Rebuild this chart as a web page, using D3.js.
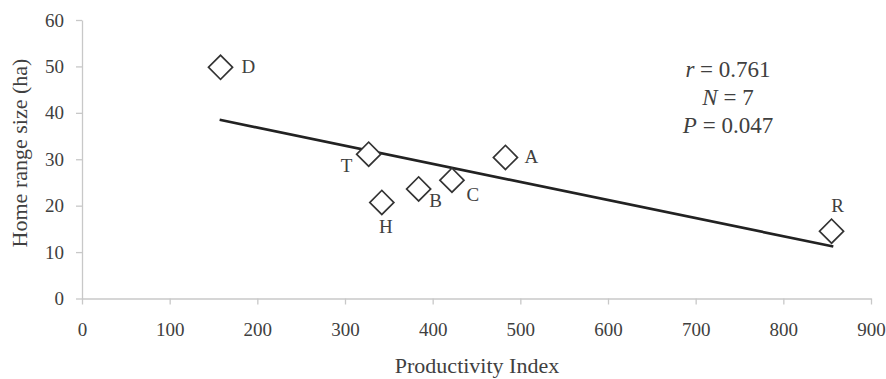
<!DOCTYPE html>
<html><head><meta charset="utf-8">
<script src="https://cdn.jsdelivr.net/npm/d3@7"></script>
<style>body{margin:0;background:#fff}svg{display:block}</style>
</head><body>
<svg id="c" width="886" height="379"></svg>
<script>
const labels = ["D","T","H","B","C","A","R"];
const productivity = [158, 327, 342, 384, 422, 483, 855];
const homeRange = [49.8, 31.1, 20.7, 23.6, 25.5, 30.4, 14.5];
const fitX = [157, 857];
const fitY = [38.5, 11.2];
const xTicks = [0,100,200,300,400,500,600,700,800,900];
const yTicks = [0,10,20,30,40,50,60];
const stats = [["r"," = 0.761"],["N"," = 7"],["P"," = 0.047"]];
// label offsets (dx, dy) relative to point, anchor
const labelPos = {D:[21,6,"start"],T:[-22,18,"middle"],H:[4,31,"middle"],B:[17,18,"middle"],C:[21,21,"middle"],A:[26,6,"middle"],R:[6,-19,"middle"]};

const svg = d3.select("#c");
const font = "'Liberation Serif','Times New Roman',serif";
const x = d3.scaleLinear().domain([0,900]).range([82,871]);
const y = d3.scaleLinear().domain([0,60]).range([298.5,20]);

const axisCol = "#c8c8c8", textCol = "#404040";
const gx = svg.append("g").attr("transform","translate(0,298.5)")
  .call(d3.axisBottom(x).tickValues(xTicks).tickSize(6).tickSizeOuter(0).tickPadding(18));
const gy = svg.append("g").attr("transform","translate(82,0)")
  .call(d3.axisLeft(y).tickValues(yTicks).tickSize(6).tickSizeOuter(0).tickPadding(12));
[gx,gy].forEach(g=>{
  g.selectAll("path,line").attr("stroke",axisCol).attr("stroke-width",1.3);
  g.selectAll("text").attr("fill",textCol).style("font-family",font).style("font-size","19px");
});

svg.append("text").attr("x",477).attr("y",373).attr("text-anchor","middle")
  .attr("fill",textCol).style("font-family",font).style("font-size","22px").text("Productivity Index");
svg.append("text").attr("transform","translate(27,153) rotate(-90)").attr("text-anchor","middle")
  .attr("fill",textCol).style("font-family",font).style("font-size","22px").text("Home range size (ha)");

// regression line
svg.append("line").attr("x1",x(fitX[0])).attr("y1",y(fitY[0])).attr("x2",x(fitX[1])).attr("y2",y(fitY[1]))
  .attr("stroke","#222").attr("stroke-width",2.7);

// diamonds
const sym = d3.symbol().type(d3.symbolSquare).size(290);
const pts = svg.append("g").selectAll("g").data(labels.map((l,i)=>({l,x:productivity[i],y:homeRange[i]}))).join("g")
  .attr("transform",d=>`translate(${x(d.x)},${y(d.y)})`);
pts.append("path").attr("d",sym).attr("transform","rotate(45)")
  .attr("fill","#fff").attr("stroke","#333").attr("stroke-width",1.7);
pts.append("text").attr("x",d=>labelPos[d.l][0]).attr("y",d=>labelPos[d.l][1])
  .attr("text-anchor",d=>labelPos[d.l][2])
  .attr("fill",textCol).style("font-family",font).style("font-size","19px").text(d=>d.l);

// stats
const st = svg.append("g");
stats.forEach((s,i)=>{
  const t = st.append("text").attr("x",728).attr("y",77+i*28).attr("text-anchor","middle")
    .attr("fill",textCol).style("font-family",font).style("font-size","23px");
  t.append("tspan").style("font-style","italic").text(s[0]);
  t.append("tspan").text(s[1]);
});
</script>
</body></html>
